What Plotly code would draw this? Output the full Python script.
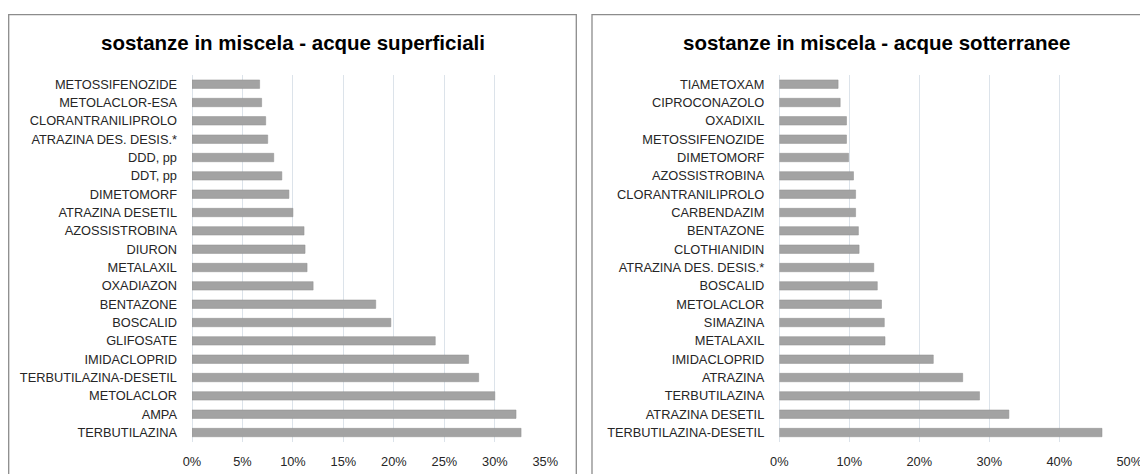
import plotly.graph_objects as go

# dati (dal basso verso l'alto)
sup_names = [
    "TERBUTILAZINA", "AMPA", "METOLACLOR", "TERBUTILAZINA-DESETIL", "IMIDACLOPRID",
    "GLIFOSATE", "BOSCALID", "BENTAZONE", "OXADIAZON", "METALAXIL",
    "DIURON", "AZOSSISTROBINA", "ATRAZINA DESETIL", "DIMETOMORF", "DDT, pp",
    "DDD, pp", "ATRAZINA DES. DESIS.*", "CLORANTRANILIPROLO", "METOLACLOR-ESA", "METOSSIFENOZIDE",
]
sup_values = [
    0.326, 0.321, 0.300, 0.284, 0.274,
    0.241, 0.197, 0.182, 0.120, 0.114,
    0.112, 0.111, 0.100, 0.096, 0.089,
    0.081, 0.075, 0.073, 0.069, 0.067,
]

sott_names = [
    "TERBUTILAZINA-DESETIL", "ATRAZINA DESETIL", "TERBUTILAZINA", "ATRAZINA", "IMIDACLOPRID",
    "METALAXIL", "SIMAZINA", "METOLACLOR", "BOSCALID", "ATRAZINA DES. DESIS.*",
    "CLOTHIANIDIN", "BENTAZONE", "CARBENDAZIM", "CLORANTRANILIPROLO", "AZOSSISTROBINA",
    "DIMETOMORF", "METOSSIFENOZIDE", "OXADIXIL", "CIPROCONAZOLO", "TIAMETOXAM",
]
sott_values = [
    0.461, 0.328, 0.286, 0.262, 0.220,
    0.151, 0.150, 0.146, 0.140, 0.135,
    0.114, 0.113, 0.109, 0.109, 0.106,
    0.099, 0.096, 0.096, 0.087, 0.084,
]

titles = ["sostanze in miscela - acque superficiali", "sostanze in miscela - acque sotterranee"]

W, H = 1148, 474
OFF = 8  # margine del body nella pagina
FONT = "Liberation Sans, Arial, sans-serif"
BAR = "#a3a3a3"
GRID = "#dce3ea"

fig = go.Figure()
fig.add_trace(go.Bar(x=sup_values, y=sup_names, orientation="h",
                     marker=dict(color=BAR, line=dict(color="#8f8f8f", width=0.5)),
                     xaxis="x", yaxis="y"))
fig.add_trace(go.Bar(x=sott_values, y=sott_names, orientation="h",
                     marker=dict(color=BAR, line=dict(color="#8f8f8f", width=0.5)),
                     xaxis="x2", yaxis="y2"))

def px(v):
    return (v - OFF) / W

def py(v):
    return 1 - (v - OFF) / H

ydom = [py(441.7), py(75)]
axis_font = dict(family=FONT, size=12.8, color="#262626")
common_x = dict(tickformat=".0%", showgrid=True, gridcolor=GRID, gridwidth=1,
                zeroline=True, zerolinecolor=GRID, showline=False,
                tickfont=axis_font, ticklabelstandoff=10, automargin=False)
common_y = dict(showgrid=False, tickfont=axis_font, ticklabelstandoff=14,
                type="category", automargin=False)

fig.update_layout(
    template="none",
    width=W, height=H,
    margin=dict(l=0, r=0, t=0, b=0),
    paper_bgcolor="white", plot_bgcolor="white",
    showlegend=False,
    bargap=0.54,
    xaxis=dict(domain=[px(192), px(545.3)], range=[0, 0.35], dtick=0.05, anchor="y", **common_x),
    yaxis=dict(domain=ydom, anchor="x", **common_y),
    xaxis2=dict(domain=[px(779.3), px(1129.3)], range=[0, 0.5], dtick=0.1, anchor="y2", **common_x),
    yaxis2=dict(domain=ydom, anchor="x2", **common_y),
)

# cornici dei due riquadri
for x0, x1 in [(8.7, 576.3), (592, 1186)]:
    fig.add_shape(type="rect", xref="paper", yref="paper",
                  x0=px(x0), x1=px(x1), y0=py(490), y1=py(14.7),
                  line=dict(color="#8c8c8c", width=1.3), fillcolor="rgba(0,0,0,0)")

for cx, t in zip([293, 876], titles):
    fig.add_annotation(x=px(cx), y=py(43), xref="paper", yref="paper", text=f"<b>{t}</b>",
                       showarrow=False, xanchor="center", yanchor="middle",
                       font=dict(family=FONT, size=20.5, color="black"))

fig.write_html("out.html")
